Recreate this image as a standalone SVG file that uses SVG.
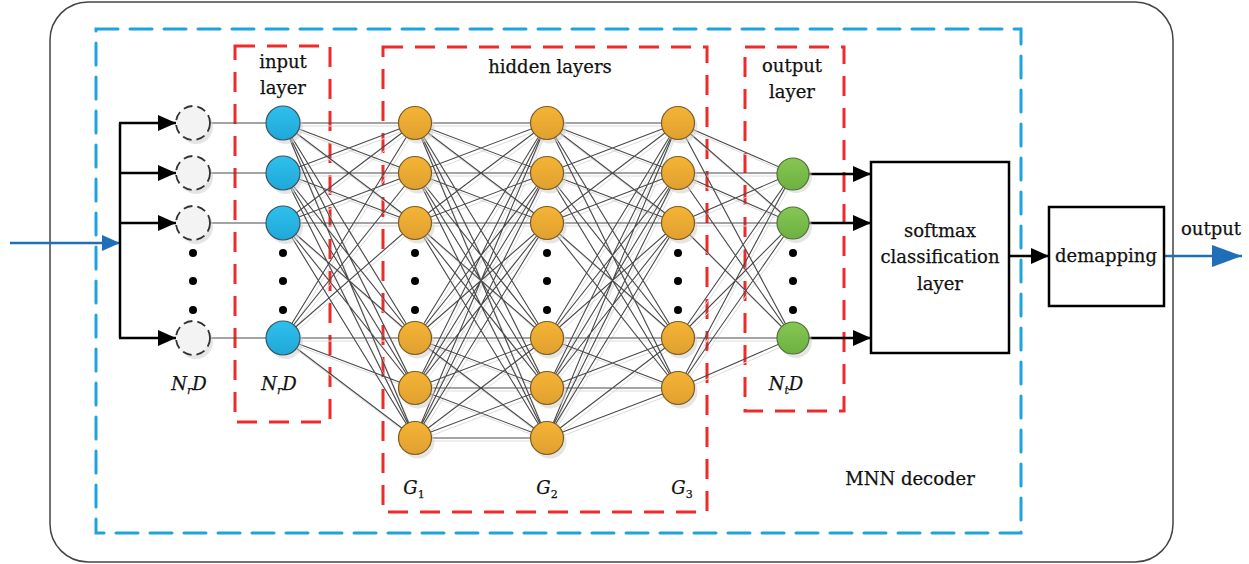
<svg xmlns="http://www.w3.org/2000/svg" width="1249" height="564" viewBox="0 0 1249 564">
<style>
text{font-family:"DejaVu Serif","Liberation Serif",serif;font-size:18px;fill:#111;stroke:#111;stroke-width:0.25}
.lbl{text-anchor:middle}
.it{font-style:italic}
.sub{font-size:11px}
.bluebox{fill:none;stroke:#1fa3dc;stroke-width:3;stroke-dasharray:22 12;stroke-linecap:round}
.redbox{fill:none;stroke:#ee2a2a;stroke-width:3;stroke-dasharray:20 12}
.mesh{fill:none;stroke:#4a4a4a;stroke-width:1.1}
.meshs{fill:none;stroke:#dcdcdc;stroke-width:1}
.blk{fill:none;stroke:#000;stroke-width:2.5}
.blu{fill:none;stroke:#1e6fb8;stroke-width:2.5}
.din{fill:#f3f3f3;stroke:#333;stroke-width:1.8;stroke-dasharray:9 5}
.inp{fill:url(#gb);stroke:#3b5566;stroke-width:1.2}
.hid{fill:url(#go);stroke:#7a5c24;stroke-width:1.2}
.out{fill:url(#gg);stroke:#4f7136;stroke-width:1.2}
.dot{fill:#000}
.box{fill:#fff;stroke:#000;stroke-width:2.5}
.sh{fill:#cfcfcf;opacity:.55}
</style>
<defs>
<linearGradient id="gb" x1="0" y1="0" x2="0" y2="1"><stop offset="0" stop-color="#2fc0ee"/><stop offset="1" stop-color="#1fa8d8"/></linearGradient>
<linearGradient id="go" x1="0" y1="0" x2="0" y2="1"><stop offset="0" stop-color="#f5b435"/><stop offset="1" stop-color="#e0a030"/></linearGradient>
<linearGradient id="gg" x1="0" y1="0" x2="0" y2="1"><stop offset="0" stop-color="#86c654"/><stop offset="1" stop-color="#6db142"/></linearGradient>
<marker id="ab" markerUnits="userSpaceOnUse" markerWidth="18" markerHeight="16" refX="18" refY="8" orient="auto"><path d="M0 0L18 8L0 16z" fill="#000"/></marker>
<marker id="au" markerUnits="userSpaceOnUse" markerWidth="18" markerHeight="16" refX="18" refY="8" orient="auto"><path d="M0 0L18 8L0 16z" fill="#1e6fb8"/></marker>
<marker id="au2" markerUnits="userSpaceOnUse" markerWidth="30" markerHeight="22" refX="30" refY="11" orient="auto"><path d="M0 0L30 11L0 22z" fill="#1e6fb8"/></marker>
</defs>
<rect width="1249" height="564" fill="#fff"/>
<g id="frame">
<rect x="50" y="2" width="1123" height="560" rx="38" ry="38" fill="none" stroke="#444" stroke-width="1.5"/>
<rect class="bluebox" x="96" y="29" width="925" height="504"/>
<rect class="redbox" x="235" y="46" width="95" height="376"/>
<rect class="redbox" x="383" y="47" width="324" height="465"/>
<rect class="redbox" x="745" y="47" width="99" height="364"/>
</g>
<g id="connectors">
<g transform="translate(2,3)" class="meshs">
<path d="M283 123L415 123M283 123L415 173M283 123L415 223M283 123L415 338M283 123L415 388M283 123L415 438M283 173L415 123M283 173L415 173M283 173L415 223M283 173L415 338M283 173L415 388M283 173L415 438M283 223L415 123M283 223L415 173M283 223L415 223M283 223L415 338M283 223L415 388M283 223L415 438M283 338L415 123M283 338L415 173M283 338L415 223M283 338L415 338M283 338L415 388M283 338L415 438"/>
<path d="M415 123L547 123M415 123L547 173M415 123L547 223M415 123L547 338M415 123L547 388M415 123L547 438M415 173L547 123M415 173L547 173M415 173L547 223M415 173L547 338M415 173L547 388M415 173L547 438M415 223L547 123M415 223L547 173M415 223L547 223M415 223L547 338M415 223L547 388M415 223L547 438M415 338L547 123M415 338L547 173M415 338L547 223M415 338L547 338M415 338L547 388M415 338L547 438M415 388L547 123M415 388L547 173M415 388L547 223M415 388L547 338M415 388L547 388M415 388L547 438M415 438L547 123M415 438L547 173M415 438L547 223M415 438L547 338M415 438L547 388M415 438L547 438"/>
<path d="M547 123L678 123M547 123L678 173M547 123L678 223M547 123L678 338M547 123L678 388M547 173L678 123M547 173L678 173M547 173L678 223M547 173L678 338M547 173L678 388M547 223L678 123M547 223L678 173M547 223L678 223M547 223L678 338M547 223L678 388M547 338L678 123M547 338L678 173M547 338L678 223M547 338L678 338M547 338L678 388M547 388L678 123M547 388L678 173M547 388L678 223M547 388L678 338M547 388L678 388M547 438L678 123M547 438L678 173M547 438L678 223M547 438L678 338M547 438L678 388"/>
<path d="M678 123L793 173M678 123L793 223M678 123L793 338M678 173L793 173M678 173L793 223M678 173L793 338M678 223L793 173M678 223L793 223M678 223L793 338M678 338L793 173M678 338L793 223M678 338L793 338M678 388L793 173M678 388L793 223M678 388L793 338"/>
</g>
<g class="mesh">
<path d="M193 123L283 123M193 173L283 173M193 223L283 223M193 338L283 338"/>
<path d="M283 123L415 123M283 123L415 173M283 123L415 223M283 123L415 338M283 123L415 388M283 123L415 438M283 173L415 123M283 173L415 173M283 173L415 223M283 173L415 338M283 173L415 388M283 173L415 438M283 223L415 123M283 223L415 173M283 223L415 223M283 223L415 338M283 223L415 388M283 223L415 438M283 338L415 123M283 338L415 173M283 338L415 223M283 338L415 338M283 338L415 388M283 338L415 438"/>
<path d="M415 123L547 123M415 123L547 173M415 123L547 223M415 123L547 338M415 123L547 388M415 123L547 438M415 173L547 123M415 173L547 173M415 173L547 223M415 173L547 338M415 173L547 388M415 173L547 438M415 223L547 123M415 223L547 173M415 223L547 223M415 223L547 338M415 223L547 388M415 223L547 438M415 338L547 123M415 338L547 173M415 338L547 223M415 338L547 338M415 338L547 388M415 338L547 438M415 388L547 123M415 388L547 173M415 388L547 223M415 388L547 338M415 388L547 388M415 388L547 438M415 438L547 123M415 438L547 173M415 438L547 223M415 438L547 338M415 438L547 388M415 438L547 438"/>
<path d="M547 123L678 123M547 123L678 173M547 123L678 223M547 123L678 338M547 123L678 388M547 173L678 123M547 173L678 173M547 173L678 223M547 173L678 338M547 173L678 388M547 223L678 123M547 223L678 173M547 223L678 223M547 223L678 338M547 223L678 388M547 338L678 123M547 338L678 173M547 338L678 223M547 338L678 338M547 338L678 388M547 388L678 123M547 388L678 173M547 388L678 223M547 388L678 338M547 388L678 388M547 438L678 123M547 438L678 173M547 438L678 223M547 438L678 338M547 438L678 388"/>
<path d="M678 123L793 173M678 123L793 223M678 123L793 338M678 173L793 173M678 173L793 223M678 173L793 338M678 223L793 173M678 223L793 223M678 223L793 338M678 338L793 173M678 338L793 223M678 338L793 338M678 388L793 173M678 388L793 223M678 388L793 338"/>
</g>
<path class="blu" d="M10 243L120 243" marker-end="url(#au)"/>
<path class="blk" d="M120 123L120 338"/>
<path class="blk" d="M119 123L176 123" marker-end="url(#ab)"/>
<path class="blk" d="M120 173L176 173" marker-end="url(#ab)"/>
<path class="blk" d="M120 223L176 223" marker-end="url(#ab)"/>
<path class="blk" d="M119 338L176 338" marker-end="url(#ab)"/>
<path class="blk" d="M809 174L871 174" marker-end="url(#ab)"/>
<path class="blk" d="M809 223L871 223" marker-end="url(#ab)"/>
<path class="blk" d="M809 338L871 338" marker-end="url(#ab)"/>
<path class="blk" d="M1009 256L1049 256" marker-end="url(#ab)"/>
<path class="blu" d="M1164 256L1242 256" stroke-width="3" marker-end="url(#au2)"/>
</g>
<g id="receive-nodes">
<circle class="sh" cx="196" cy="127" r="17"/><circle class="sh" cx="196" cy="177" r="17"/><circle class="sh" cx="196" cy="227" r="17"/><circle class="sh" cx="196" cy="342" r="17"/>
<circle class="din" cx="193" cy="123" r="17"/><circle class="din" cx="193" cy="173" r="17"/><circle class="din" cx="193" cy="223" r="17"/><circle class="din" cx="193" cy="338" r="17"/>
<circle class="dot" cx="193" cy="253" r="4"/><circle class="dot" cx="193" cy="281" r="4"/><circle class="dot" cx="193" cy="310" r="4"/>
<text x="189" y="390" class="lbl it">N<tspan class="sub" dy="4">r</tspan><tspan dy="-4">D</tspan></text>
</g>
<g id="input-layer">
<circle class="sh" cx="286" cy="127" r="17"/><circle class="sh" cx="286" cy="177" r="17"/><circle class="sh" cx="286" cy="227" r="17"/><circle class="sh" cx="286" cy="342" r="17"/>
<circle class="inp" cx="283" cy="123" r="17"/><circle class="inp" cx="283" cy="173" r="17"/><circle class="inp" cx="283" cy="223" r="17"/><circle class="inp" cx="283" cy="338" r="17"/>
<circle class="dot" cx="283" cy="253" r="4"/><circle class="dot" cx="283" cy="281" r="4"/><circle class="dot" cx="283" cy="310" r="4"/>
<text x="283" y="68" class="lbl">input</text>
<text x="283" y="94" class="lbl">layer</text>
<text x="279" y="390" class="lbl it">N<tspan class="sub" dy="4">r</tspan><tspan dy="-4">D</tspan></text>
</g>
<g id="hidden-G1">
<circle class="sh" cx="418" cy="127" r="16.5"/><circle class="sh" cx="418" cy="177" r="16.5"/><circle class="sh" cx="418" cy="227" r="16.5"/><circle class="sh" cx="418" cy="342" r="16.5"/><circle class="sh" cx="418" cy="392" r="16.5"/><circle class="sh" cx="418" cy="442" r="16.5"/>
<circle class="hid" cx="415" cy="123" r="16.5"/><circle class="hid" cx="415" cy="173" r="16.5"/><circle class="hid" cx="415" cy="223" r="16.5"/><circle class="hid" cx="415" cy="338" r="16.5"/><circle class="hid" cx="415" cy="388" r="16.5"/><circle class="hid" cx="415" cy="438" r="16.5"/>
<circle class="dot" cx="415" cy="253" r="4"/><circle class="dot" cx="415" cy="281" r="4"/><circle class="dot" cx="415" cy="310" r="4"/>
<text x="414" y="494" class="lbl it">G<tspan class="sub" dy="4" font-style="normal">1</tspan></text>
</g>
<g id="hidden-G2">
<circle class="sh" cx="550" cy="127" r="16.5"/><circle class="sh" cx="550" cy="177" r="16.5"/><circle class="sh" cx="550" cy="227" r="16.5"/><circle class="sh" cx="550" cy="342" r="16.5"/><circle class="sh" cx="550" cy="392" r="16.5"/><circle class="sh" cx="550" cy="442" r="16.5"/>
<circle class="hid" cx="547" cy="123" r="16.5"/><circle class="hid" cx="547" cy="173" r="16.5"/><circle class="hid" cx="547" cy="223" r="16.5"/><circle class="hid" cx="547" cy="338" r="16.5"/><circle class="hid" cx="547" cy="388" r="16.5"/><circle class="hid" cx="547" cy="438" r="16.5"/>
<circle class="dot" cx="547" cy="253" r="4"/><circle class="dot" cx="547" cy="281" r="4"/><circle class="dot" cx="547" cy="310" r="4"/>
<text x="547" y="494" class="lbl it">G<tspan class="sub" dy="4" font-style="normal">2</tspan></text>
</g>
<g id="hidden-G3">
<circle class="sh" cx="681" cy="127" r="16.5"/><circle class="sh" cx="681" cy="177" r="16.5"/><circle class="sh" cx="681" cy="227" r="16.5"/><circle class="sh" cx="681" cy="342" r="16.5"/><circle class="sh" cx="681" cy="392" r="16.5"/>
<circle class="hid" cx="678" cy="123" r="16.5"/><circle class="hid" cx="678" cy="173" r="16.5"/><circle class="hid" cx="678" cy="223" r="16.5"/><circle class="hid" cx="678" cy="338" r="16.5"/><circle class="hid" cx="678" cy="388" r="16.5"/>
<circle class="dot" cx="678" cy="253" r="4"/><circle class="dot" cx="678" cy="281" r="4"/><circle class="dot" cx="678" cy="310" r="4"/>
<text x="682" y="494" class="lbl it">G<tspan class="sub" dy="4" font-style="normal">3</tspan></text>
<text x="550" y="73" class="lbl">hidden layers</text>
</g>
<g id="output-layer">
<circle class="sh" cx="796" cy="177" r="16"/><circle class="sh" cx="796" cy="227" r="16"/><circle class="sh" cx="796" cy="342" r="16"/>
<circle class="out" cx="793" cy="174" r="16"/><circle class="out" cx="793" cy="223" r="16"/><circle class="out" cx="793" cy="338" r="16"/>
<circle class="dot" cx="793" cy="253" r="4"/><circle class="dot" cx="793" cy="281" r="4"/><circle class="dot" cx="793" cy="310" r="4"/>
<text x="792" y="72" class="lbl">output</text>
<text x="792" y="98" class="lbl">layer</text>
<text x="786" y="390" class="lbl it">N<tspan class="sub" dy="4">t</tspan><tspan dy="-4">D</tspan></text>
</g>
<g id="softmax">
<rect class="box" x="871" y="162" width="138" height="191"/>
<text x="940" y="237" class="lbl">softmax</text>
<text x="940" y="263" class="lbl">classification</text>
<text x="940" y="290" class="lbl">layer</text>
</g>
<g id="demapping">
<rect class="box" x="1049" y="207" width="115" height="99"/>
<text x="1106" y="262" class="lbl">demapping</text>
</g>
<g id="labels">
<text x="1181" y="235">output</text>
<text x="910" y="485" class="lbl">MNN decoder</text>
</g>
</svg>
